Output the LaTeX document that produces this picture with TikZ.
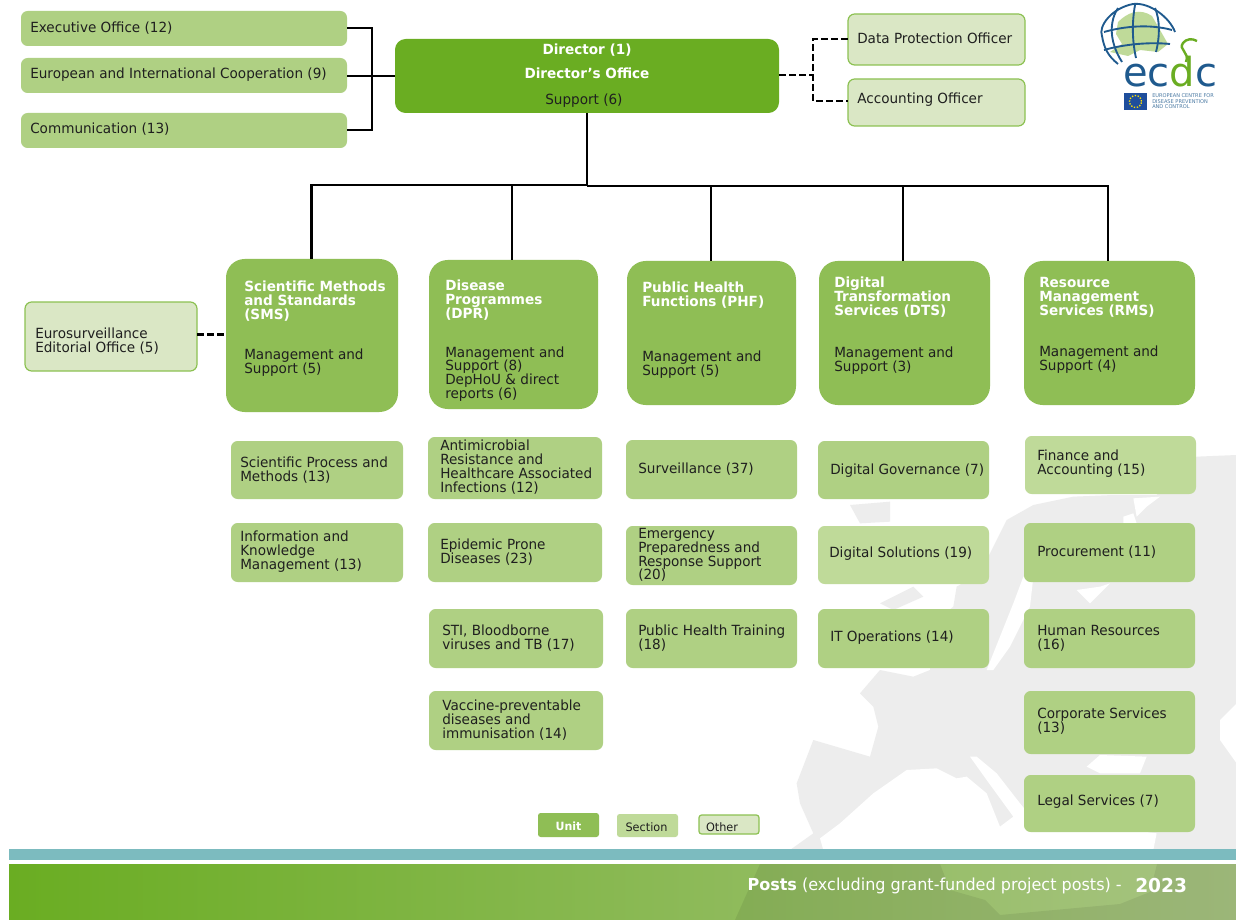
\documentclass[tikz,border=0pt]{standalone}
\usepackage{fontspec}
\setmainfont{DejaVu Sans}[FakeStretch=0.97]
\newfontfamily\logofont{DejaVu Sans}
\usetikzlibrary{shadings}
\definecolor{dirg}{HTML}{6AAD22}
\definecolor{unitg}{HTML}{8FBE55}
\definecolor{secg}{HTML}{AFD083}
\definecolor{secl}{HTML}{BFDA99}
\definecolor{othg}{HTML}{DAE7C5}
\definecolor{othb}{HTML}{8CC152}
\definecolor{teal}{HTML}{7CBBBF}
\definecolor{mapg}{HTML}{EDEDED}
\definecolor{navy}{HTML}{1F5A8E}
\definecolor{eub}{HTML}{1F4E9C}
\tikzset{
 x=0.75pt,y=-0.75pt,
 boxb/.style={rounded corners=5pt,inner sep=0pt,outer sep=0pt},
 unit/.style={boxb,fill=unitg,rounded corners=14pt},
 sect/.style={boxb,fill=secg},
 sectl/.style={boxb,fill=secl},
 oth/.style={boxb,fill=othg,draw=othb,line width=0.9pt},
 dir/.style={boxb,fill=dirg,rounded corners=8pt},
 txt/.style={anchor=west,align=left,inner sep=0pt,yshift=-0.75pt,font=\fontsize{10.5pt}{10.4pt}\selectfont,text=black!88},
 hd/.style={txt,text=white,font=\fontsize{10.5pt}{10.4pt}\selectfont\bfseries},
 conn/.style={line width=1.7pt,draw=black},
 vconn/.style={line width=1.5pt,draw=black},
 dashline/.style={line width=1.6pt,draw=black,dash pattern=on 5pt off 2.5pt},
 globe/.style={navy,line width=1.4pt},
}
% \bx{name}{style}{x1}{y1}{x2}{y2}
\newcommand{\bx}[6]{\path[#2] (#3,#4) rectangle (#5,#6);\node[inner sep=0pt,minimum width={(#5-#3)*0.75pt},minimum height={(#6-#4)*0.75pt}] (#1) at ({(#3+#5)/2},{(#4+#6)/2}) {};}
\begin{document}
\begin{tikzpicture}
\useasboundingbox (0,0) rectangle (1236,920);
\fill[white] (0,0) rectangle (1236,920);
% map: zoom coordinates mapped through the scope
\begin{scope}[shift={(780,440)},x=0.25pt,y=-0.25pt]
\fill[mapg] (1370,45) -- (1250,50) -- (1130,165) -- (1000,165) -- (880,170) -- (760,195) -- (680,240) -- (640,320) -- (600,400) -- (530,440) -- (520,500) -- (470,540) -- (450,690) -- (400,710) -- (300,690) -- (240,760) -- (280,800) -- (295,860) -- (270,950) -- (100,900) -- (50,1030) -- (60,1090) -- (100,1180) -- (30,1230) -- (1370,1230) -- cycle;
\fill[mapg] (210,195) -- (330,185) -- (330,245) -- (240,250) -- cycle;
\fill[mapg] (300,490) -- (400,440) -- (430,470) -- (340,510) -- cycle;
\fill[white] (120,1195) -- (180,1150) -- (280,1060) -- (380,990) -- (470,985) -- (530,1015) -- (560,1010) -- (620,1060) -- (660,1160) -- (700,1130) -- (620,1020) -- (570,950) -- (590,950) -- (650,1000) -- (720,1090) -- (770,1150) -- (820,1160) -- (860,1130) -- (900,1150) -- (1130,1180) -- (1120,1230) -- (130,1230) -- cycle;
\fill[white] (920,980) -- (960,945) -- (1100,950) -- (1080,1000) -- (960,1000) -- cycle;
\fill[white] (1370,790) -- (1320,840) -- (1320,900) -- (1370,970) -- cycle;
\fill[white] (700,490) -- (730,410) -- (760,410) -- (750,500) -- (690,620) -- (640,690) -- (620,690) -- (660,590) -- cycle;
\fill[white] (890,450) -- (960,440) -- (990,430) -- (930,490) -- cycle;
\fill[white] (1060,175) -- (1140,170) -- (1100,200) -- (1070,230) -- cycle;
\fill[white] (1030,230) -- (1060,220) -- (1070,250) -- (1030,250) -- cycle;
\end{scope}
% footer
\fill[teal] (9,849) rectangle (1236,860);
\shade[left color=dirg,right color=secg!85!gray] (9,864) rectangle (1236,920);
\fill[black,opacity=0.07,even odd rule] (760,864) -- (1236,864) -- (1236,920) -- (735,920) -- cycle (940,864) -- (1157,864) -- (1150,892) -- (1120,904) -- (1000,915) -- (985,900) -- (950,890) -- cycle;
% connectors-bearing boxes
\bx{exec}{sect}{21}{11}{347}{46}
\bx{euro}{sect}{21}{58}{347}{93}
\bx{comm}{sect}{21}{113}{347}{148}
\bx{dirb}{dir}{395}{39}{779}{113}
\bx{dpo}{oth}{848}{14}{1025}{65}
\bx{acc}{oth}{848}{79}{1025}{126}
\bx{sms}{unit}{226}{259}{398}{412}
\bx{dpr}{unit}{429}{260}{598}{409}
\bx{phf}{unit}{627}{261}{796}{405}
\bx{dts}{unit}{819}{261}{990}{405}
\bx{rms}{unit}{1024}{261}{1195}{405}
\bx{eur}{oth}{25}{302}{197}{371}
\coordinate (jsms) at (311.5,185);
\coordinate (jdpr) at (512,185);
\coordinate (jdir) at (587,185);
\coordinate (jdirb) at (587,186);
\coordinate (jphf) at (710.5,186);
\coordinate (jdts) at (903,186);
\coordinate (jrms) at (1108,186);
\coordinate (ltop) at (372,28);
\coordinate (lbot) at (372,130);
\coordinate (rtop) at (813,39);
\coordinate (rmid) at (813,75);
\coordinate (rbot) at (813,101);
\coordinate (edash) at (0,334.5);
% connectors
\draw[conn] (exec.east |- ltop) -- (ltop) -- (lbot) -- (comm.east |- lbot);
\draw[conn] (euro.east |- dirb.west) -- (dirb.west);
\draw[conn] (dirb.south) -- (jdirb);
\draw[conn] (jsms |- sms.north) -- (jsms) -- (jdir);
\draw[conn] (jdirb) -- (jrms) -- (jrms |- rms.north);
\draw[conn] (jdpr) -- (jdpr |- dpr.north);
\draw[vconn] (jphf) -- (jphf |- phf.north);
\draw[vconn] (jdts) -- (jdts |- dts.north);
\draw[dashline] (dirb.east |- rmid) -- (rmid);
\draw[dashline,line width=1.3pt] (dpo.west |- rtop) -- (rtop) -- (rbot) -- (acc.west |- rbot);
\draw[dashline] (eur.east |- edash) -- (sms.west |- edash);
% text
\node[hd,align=center,anchor=center] (t0) at (587,60.5) {Director (1)\\[8pt]Director’s Office};
\node[txt] (t1) at (545,100) {Support (6)};
\node[txt] (a) at (30,27.5) {Executive Office (12)};
\node[txt] (b) at (30,74) {European and International Cooperation (9)};
\node[txt] (c) at (30,128) {Communication (13)};
\node[txt] (d) at (857,37) {Data Protection Officer};
\node[txt] (e) at (857,99) {Accounting Officer};
\node[txt] (f) at (35,340) {Eurosurveillance\\Editorial Office (5)};
\node[hd] (s1) at (244,300) {Scientific Methods\\and Standards\\(SMS)};
\node[txt] (s2) at (244,362) {Management and\\Support (5)};
\node[hd] (d1) at (445,299) {Disease\\Programmes\\(DPR)};
\node[txt] (d2) at (445,373) {Management and\\Support (8)\\DepHoU \& direct\\reports (6)};
\node[hd] (p1) at (642,294) {Public Health\\Functions (PHF)};
\node[txt] (p2) at (642,364) {Management and\\Support (5)};
\node[hd] (t1b) at (834,296) {Digital\\Transformation\\Services (DTS)};
\node[txt] (t2) at (834,360) {Management and\\Support (3)};
\node[hd] (r1) at (1039,296) {Resource\\Management\\Services (RMS)};
\node[txt] (r2) at (1039,359) {Management and\\Support (4)};
% sections
\bx{q1}{sect}{231}{441}{403}{499}
\node[txt] (qt1) at (240,469) {Scientific Process and\\Methods (13)};
\bx{q2}{sect}{231}{523}{403}{582}
\node[txt] (qt2) at (240,551) {Information and\\Knowledge\\Management (13)};
\bx{q3}{sect}{428}{437}{602}{499}
\node[txt] (qt3) at (440,466) {Antimicrobial\\Resistance and\\Healthcare Associated\\Infections (12)};
\bx{q4}{sect}{428}{523}{602}{582}
\node[txt] (qt4) at (440,551) {Epidemic Prone\\Diseases (23)};
\bx{q5}{sect}{429}{609}{603}{668}
\node[txt] (qt5) at (442,637) {STI, Bloodborne\\viruses and TB (17)};
\bx{q6}{sect}{429}{691}{603}{750}
\node[txt] (qt6) at (442,719) {Vaccine-preventable\\diseases and\\immunisation (14)};
\bx{q7}{sect}{626}{440}{797}{499}
\node[txt] (qt7) at (638,468) {Surveillance (37)};
\bx{q8}{sect}{626}{526}{797}{585}
\node[txt] (qt8) at (638,554) {Emergency\\Preparedness and\\Response Support\\(20)};
\bx{q9}{sect}{626}{609}{797}{668}
\node[txt] (qt9) at (638,637) {Public Health Training\\(18)};
\bx{q10}{sect}{818}{441}{989}{499}
\node[txt] (qt10) at (830,469.5) {Digital Governance (7)};
\bx{q11}{sectl}{818}{526}{989}{584}
\node[txt] (qt11) at (829,552.5) {Digital Solutions (19)};
\bx{q12}{sect}{818}{609}{989}{668}
\node[txt] (qt12) at (830,637) {IT Operations (14)};
\bx{q13}{sectl}{1025}{436}{1196}{494}
\node[txt] (qt13) at (1037,463) {Finance and\\Accounting (15)};
\bx{q14}{sect}{1024}{523}{1195}{582}
\node[txt] (qt14) at (1037,551) {Procurement (11)};
\bx{q15}{sect}{1024}{609}{1195}{668}
\node[txt] (qt15) at (1037,637) {Human Resources\\(16)};
\bx{q16}{sect}{1024}{691}{1195}{754}
\node[txt] (qt16) at (1037,720) {Corporate Services\\(13)};
\bx{q17}{sect}{1024}{775}{1195}{832}
\node[txt] (qt17) at (1037,801) {Legal Services (7)};
% legend
\bx{l1}{unit,rounded corners=2pt}{538}{813}{599}{837}
\node[hd,anchor=center,font=\fontsize{8.5pt}{9pt}\selectfont\bfseries] (lt1) at (l1) {Unit};
\bx{l2}{sectl,rounded corners=2pt}{617}{814}{678}{837}
\node[txt,anchor=center,font=\fontsize{8.7pt}{9pt}\selectfont] (lt2) at (646.5,826) {Section};
\bx{l3}{oth,rounded corners=2pt}{699}{815}{759}{834}
\node[txt,anchor=center,font=\fontsize{8.7pt}{9pt}\selectfont] (lt3) at (722,826) {Other};
% footer text
\node[txt,text=white,anchor=east,font=\fontsize{12.4pt}{13pt}\selectfont] (ft) at (1122,885) {\textbf{Posts} (excluding grant-funded project posts) -};
\node[txt,text=white,font=\fontsize{14.4pt}{14pt}\selectfont\bfseries] (fy) at (1135,885) {2023};
% logo
\fill[secl] (1118,22) .. controls (1128,12) and (1140,8) .. (1152,16) -- (1160,30) -- (1168,44) -- (1158,52) -- (1140,50) -- (1128,56) -- (1110,52) -- (1122,44) -- (1116,34) -- cycle;
\draw[globe] (1133,4) .. controls (1112,8) and (1098,26) .. (1102,36) .. controls (1104,48) and (1108,56) .. (1118,64);
\draw[globe] (1133,4) .. controls (1150,2) and (1170,18) .. (1175,32);
\draw[globe] (1104,32) .. controls (1125,26) and (1150,24) .. (1172,30);
\draw[globe] (1104,50) .. controls (1125,44) and (1150,42) .. (1170,44);
\draw[globe] (1118,8) .. controls (1110,20) and (1108,40) .. (1122,62);
\draw[globe] (1135,5) .. controls (1132,22) and (1132,40) .. (1136,58);
\draw[globe] (1155,8) .. controls (1160,20) and (1160,36) .. (1156,52);
\node[inner sep=0pt,anchor=base,text height=20pt,text depth=0pt,text=navy,font=\logofont\fontsize{30pt}{30pt}\selectfont] (logo) at (1170,87) {ec\textcolor{dirg}{d}c};
\draw[dirg,line width=1.8pt] (1186,62) .. controls (1190,52) and (1178,50) .. (1183,43) .. controls (1186,39) and (1192,38) .. (1197,41);
\fill[eub] (1124,93) rectangle (1147,110);
\draw[yellow!85!orange,line width=1pt,dash pattern=on 1pt off 1.2pt] (1135.5,101.5) circle[radius=4.5pt];
\node[inner sep=0pt,anchor=west,align=left,text=navy!80,font=\fontsize{3.9pt}{4.1pt}\selectfont] (logot) at (1152,101.5) {EUROPEAN CENTRE FOR\\DISEASE PREVENTION\\AND CONTROL};
\end{tikzpicture}
\end{document}
